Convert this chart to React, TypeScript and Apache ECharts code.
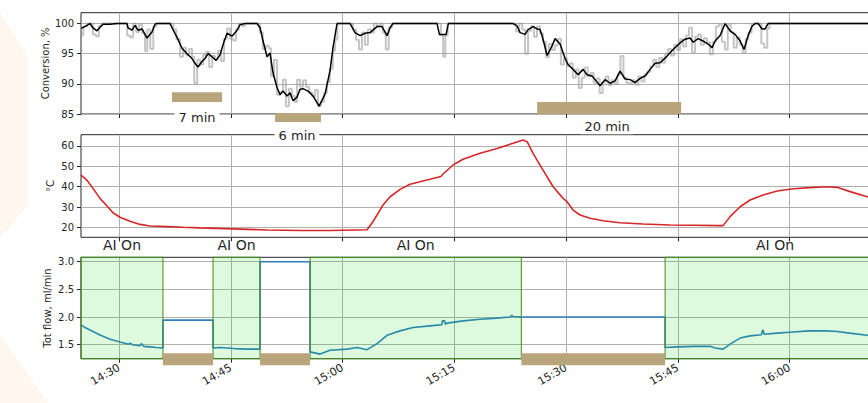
import React, { useEffect, useRef } from 'react';
import * as echarts from 'echarts';

// Time is expressed in minutes after 14:00
const xMin = 24.9;
const xMax = 132.8;
const timeTicks = [30, 45, 60, 75, 90, 105, 120];
const timeTickLabels = ['14:30', '14:45', '15:00', '15:15', '15:30', '15:45', '16:00'];

const convTicks = [85, 90, 95, 100];
const tempTicks = [20, 30, 40, 50, 60];
const flowTicks = [1.5, 2.0, 2.5, 3.0];

// Conversion, % — smoothed (black)
const convSmoothTime = [24.95, 25.7, 26.1, 26.5, 27.05, 27.45, 27.85, 28.8, 29.7, 31.07, 31.21, 31.74, 32.15, 32.55, 33.09, 33.76, 34.43, 34.83, 35.1, 36.85, 37.25, 37.79, 38.46, 39.13, 39.8, 40.2, 40.6, 41.14, 41.54, 41.95, 42.48, 43.02, 43.56, 44.09, 44.5, 45.17, 45.84, 46.24, 46.91, 48.52, 48.93, 49.33, 49.87, 50.27, 50.67, 51.21, 51.61, 52.01, 52.55, 52.95, 53.36, 53.89, 54.3, 54.7, 55.37, 56.04, 56.85, 57.65, 58.32, 58.72, 59.26, 61.01, 61.68, 62.35, 63.02, 63.69, 64.63, 65.3, 65.97, 66.38, 66.78, 72.68, 73.0, 73.9, 74.2, 82.89, 83.42, 83.83, 84.5, 84.9, 85.57, 86.11, 86.51, 86.91, 87.45, 88.12, 88.52, 89.19, 89.87, 90.27, 90.94, 91.61, 92.28, 92.82, 93.49, 93.89, 94.56, 95.23, 95.91, 96.58, 97.25, 97.92, 98.59, 99.26, 99.93, 100.6, 101.28, 101.95, 102.62, 103.56, 104.36, 105.3, 105.97, 106.64, 107.05, 107.72, 108.39, 109.06, 109.6, 110.0, 110.67, 111.34, 112.01, 112.68, 113.36, 113.89, 114.43, 114.97, 115.37, 115.77, 116.31, 116.71, 117.11, 132.8];
const convSmoothValue = [99.2, 99.7, 100, 99.3, 98.8, 99.4, 99.9, 99.9, 100, 100, 99.3, 98.9, 99.7, 98.9, 99.1, 97.6, 98.6, 99.9, 100, 100, 99.0, 97.7, 95.9, 95.0, 94.2, 93.4, 92.8, 93.7, 94.2, 95.0, 94.5, 93.9, 94.8, 97.0, 98.4, 97.9, 98.9, 99.8, 100, 100, 99.3, 97.1, 94.5, 95.1, 91.8, 89.4, 88.2, 88.8, 88.0, 88.5, 87.2, 87.8, 89.1, 89.2, 88.8, 88.0, 86.3, 88.3, 92.2, 96.0, 100, 100, 98.5, 98.0, 98.4, 98.5, 99.5, 99.5, 98.0, 99.3, 100, 100, 98.2, 98.2, 100, 100, 99.6, 98.5, 98.2, 99.0, 99.5, 99.1, 99.0, 97.4, 94.7, 96.3, 97.5, 96.6, 94.2, 93.2, 92.4, 91.5, 92.4, 91.5, 91.3, 90.7, 89.7, 90.7, 90.1, 90.5, 92.1, 90.8, 90.7, 90.2, 90.9, 91.3, 92.4, 93.4, 93.5, 94.6, 95.7, 96.8, 97.4, 97.6, 96.9, 97.5, 97.1, 96.6, 96.0, 97.1, 98.0, 100, 98.8, 98.2, 97.1, 95.7, 98.0, 99.6, 100, 100, 99.1, 99.1, 100, 100];

// Conversion, % — raw (grey)
const convRawTime = [24.95, 25.2, 25.7, 26.5, 26.9, 27.3, 27.7, 30.9, 31.1, 31.5, 31.9, 32.3, 32.7, 33.1, 33.5, 33.8, 34.2, 34.6, 35.0, 36.9, 37.3, 37.7, 38.2, 38.6, 39.0, 39.4, 39.8, 40.1, 40.5, 40.9, 41.3, 41.7, 42.1, 42.5, 42.9, 43.3, 43.7, 44.1, 44.5, 44.9, 45.3, 45.7, 46.1, 46.5, 46.9, 48.5, 48.9, 49.3, 49.7, 50.1, 50.4, 50.8, 51.2, 51.6, 52.0, 52.4, 52.8, 53.2, 53.6, 53.9, 54.3, 54.7, 55.1, 55.5, 55.9, 56.3, 56.7, 57.1, 57.5, 57.9, 58.3, 58.7, 59.0, 59.3, 61.0, 61.4, 61.8, 62.2, 62.6, 63.0, 63.4, 63.8, 64.2, 64.6, 65.0, 65.4, 65.8, 66.2, 66.6, 72.9, 73.2, 73.5, 73.8, 74.1, 82.9, 83.3, 83.7, 84.1, 84.5, 84.9, 85.3, 85.7, 86.1, 86.5, 86.9, 87.3, 87.7, 88.1, 88.5, 88.9, 89.3, 89.7, 90.1, 90.5, 90.9, 91.3, 91.7, 92.1, 92.5, 92.9, 93.3, 93.7, 94.1, 94.5, 94.9, 95.3, 95.7, 96.1, 96.5, 96.9, 97.3, 97.7, 98.1, 98.5, 98.9, 99.3, 99.7, 100.1, 100.5, 100.9, 101.3, 101.7, 102.1, 102.5, 102.9, 103.3, 103.7, 104.1, 104.5, 104.9, 105.3, 105.7, 106.1, 106.5, 106.9, 107.3, 107.7, 108.1, 108.5, 108.9, 109.3, 109.7, 110.1, 110.5, 110.9, 111.3, 111.7, 112.1, 112.5, 112.9, 113.3, 113.7, 114.1, 114.5, 114.9, 115.8, 116.2, 116.6, 117.0, 117.3, 132.8];
const convRawValue = [98.0, 99.5, 100, 98.2, 97.9, 99.6, 100, 100, 98.0, 97.7, 100, 98.6, 99.8, 98.4, 95.4, 99.0, 95.8, 99.5, 100, 100, 99.0, 97.4, 94.5, 96.0, 94.8, 95.8, 94.5, 90.1, 94.0, 93.2, 94.8, 95.3, 92.8, 94.6, 94.0, 95.5, 93.8, 97.5, 99.2, 97.5, 97.2, 99.0, 100, 99.6, 100, 100, 98.5, 95.8, 96.3, 95.9, 91.3, 94.0, 88.2, 88.6, 90.7, 86.3, 89.2, 88.0, 87.0, 90.7, 89.5, 90.6, 89.5, 88.6, 87.9, 89.0, 86.3, 87.0, 88.5, 90.3, 92.5, 95.5, 97.3, 100, 100, 99.0, 97.3, 95.7, 98.5, 96.5, 99.0, 98.5, 100, 99.5, 100, 98.5, 95.7, 99.3, 100, 100, 98.0, 94.5, 98.0, 100, 100, 98.7, 100, 99.0, 95.0, 98.8, 99.6, 97.8, 99.5, 98.4, 97.0, 94.4, 96.6, 95.6, 96.4, 97.5, 93.2, 94.2, 92.9, 93.4, 91.0, 92.4, 89.3, 91.0, 92.7, 91.2, 91.8, 90.2, 90.9, 88.5, 90.3, 91.2, 89.8, 90.6, 90.0, 91.5, 94.6, 91.0, 90.2, 90.0, 90.6, 89.9, 91.2, 90.4, 91.5, 92.0, 92.9, 94.0, 92.8, 94.3, 93.5, 95.0, 95.8, 94.7, 96.5, 95.6, 97.4, 96.2, 98.0, 99.3, 95.2, 97.8, 98.2, 96.5, 97.6, 96.9, 94.9, 97.0, 99.5, 99.9, 97.0, 95.7, 99.9, 98.5, 96.0, 97.7, 96.5, 95.2, 97.5, 98.5, 100, 100, 96.7, 96.0, 99.2, 100, 100];

// Temperature, °C
const tempTime = [24.9, 25.7, 26.51, 27.45, 28.39, 29.19, 30.13, 31.48, 32.82, 34.16, 36.44, 38.59, 40.87, 45.3, 49.87, 54.3, 58.32, 63.29, 64.0, 64.63, 65.44, 66.38, 67.72, 69.06, 70.4, 71.74, 73.2, 73.49, 74.83, 76.17, 78.46, 80.74, 82.89, 84.23, 84.77, 85.57, 86.91, 88.26, 89.6, 90.13, 90.94, 91.88, 93.22, 94.97, 97.25, 100.34, 103.96, 107.05, 110.67, 111.07, 112.01, 113.36, 114.7, 116.44, 118.32, 120.47, 123.15, 125.03, 126.38, 128.12, 130.4, 132.8];
const tempValue = [45.7, 43.2, 39.2, 34.3, 30.6, 27.3, 25.1, 23.1, 21.6, 20.8, 20.5, 20.2, 19.9, 19.4, 18.9, 18.6, 18.6, 19.0, 22.5, 26.2, 31.1, 35.1, 38.7, 41.2, 42.4, 43.6, 45.0, 46.2, 50.6, 53.4, 56.3, 58.7, 61.2, 62.8, 62.0, 56.3, 48.1, 40.0, 34.3, 32.7, 28.6, 26.2, 24.6, 23.4, 22.4, 21.8, 21.3, 21.2, 21.0, 21.0, 25.4, 30.2, 33.5, 36.0, 37.9, 39.0, 39.7, 40.0, 39.7, 37.6, 35.1, 33.0];

// Total flow, ml/min
const flowTime = [24.9, 25.44, 26.51, 27.45, 28.79, 30.13, 31.3, 31.5, 31.8, 32.8, 33.0, 33.3, 34.16, 35.0, 35.9, 35.9, 42.62, 42.62, 43.5, 44.5, 45.5, 47.0, 48.93, 48.93, 55.64, 55.64, 56.98, 58.32, 60.6, 61.95, 63.29, 64.63, 65.97, 67.72, 69.46, 71.74, 73.3, 73.4, 73.7, 73.8, 74.03, 76.17, 78.46, 80.74, 82.5, 82.7, 82.89, 84.0, 103.29, 103.29, 104.9, 107.05, 109.33, 110.0, 111.07, 112.01, 113.36, 114.7, 116.2, 116.4, 116.6, 118.32, 120.47, 122.6, 124.97, 126.38, 128.06, 130.4, 132.8];
const flowValue = [1.86, 1.81, 1.74, 1.675, 1.6, 1.55, 1.51, 1.53, 1.5, 1.48, 1.52, 1.47, 1.46, 1.45, 1.44, 1.945, 1.945, 1.44, 1.45, 1.44, 1.43, 1.42, 1.42, 3.0, 3.0, 1.37, 1.33, 1.4, 1.42, 1.45, 1.41, 1.52, 1.67, 1.75, 1.81, 1.84, 1.86, 1.93, 1.93, 1.87, 1.89, 1.93, 1.96, 1.98, 2.0, 2.03, 2.01, 2.0, 2.0, 1.45, 1.46, 1.47, 1.47, 1.44, 1.42, 1.51, 1.62, 1.66, 1.68, 1.77, 1.69, 1.71, 1.73, 1.75, 1.75, 1.74, 1.71, 1.67, 1.63];

// "AI On" windows
const aiOnStart = [24.9, 42.62, 55.64, 103.29];
const aiOnEnd = [35.9, 48.93, 84.0, 132.8];
const aiOnLabel = 'AI On';

// AI off windows (bars under flow panel)
const aiOffStart = [35.9, 48.93, 84.0];
const aiOffEnd = [42.62, 55.64, 103.29];

// Response windows in the conversion panel
const respStart = [37.11, 50.94, 86.11];
const respEnd = [43.83, 57.11, 105.44];
const respTop = [88.6, 85.17, 87.0];
const respBottom = [87.0, 83.67, 85.0];
const respLabels = ['7 min', '6 min', '20 min'];
const respLabelTime = [40.47, 53.89, 95.5];
const respLabelValue = [84.38, 81.38, 82.88];

const convRange = [85, 101.8];
const tempRange = [15.3, 65.4];
const flowRange = [1.247, 3.08];

const FONT = 'DejaVu Sans';
const TXT = '#262626';
const BROWN = '#b9a57c';

function rectSeries(gi: number, starts: number[], ends: number[], tops: number[], bottoms: number[], style: any, z: number) {
  return {
    type: 'custom',
    xAxisIndex: gi,
    yAxisIndex: gi,
    z,
    silent: true,
    clip: false,
    data: starts.map((s, i) => [s, ends[i], tops[i], bottoms[i]]),
    encode: { x: [0, 1], y: [2, 3] },
    renderItem: (_p: any, api: any) => {
      const p0 = api.coord([api.value(0), api.value(2)]);
      const p1 = api.coord([api.value(1), api.value(3)]);
      return {
        type: 'rect',
        shape: { x: p0[0], y: p0[1], width: p1[0] - p0[0], height: p1[1] - p0[1] },
        style,
      };
    },
  };
}

function textSeries(gi: number, times: number[], values: number[], labels: string[], size: number, bg: string | null) {
  return {
    type: 'custom',
    xAxisIndex: gi,
    yAxisIndex: gi,
    z: 10,
    silent: true,
    clip: false,
    data: times.map((t, i) => [t, values[i]]),
    renderItem: (params: any, api: any) => {
      const p = api.coord([api.value(0), api.value(1)]);
      const style: any = {
        text: labels[params.dataIndex],
        fontSize: size,
        fontFamily: FONT,
        fill: TXT,
        align: 'center',
        verticalAlign: 'middle',
      };
      if (bg) {
        style.backgroundColor = bg;
        style.padding = [1, 4];
      }
      return { type: 'text', x: p[0], y: p[1], style };
    },
  };
}

const timeFormatter = (v: number) => {
  const i = timeTicks.findIndex((t) => Math.abs(t - v) < 1e-6);
  return i >= 0 ? timeTickLabels[i] : '';
};

function xAxis(gi: number, labels: boolean) {
  return {
    type: 'value',
    gridIndex: gi,
    min: xMin,
    max: xMax,
    axisLine: { show: false },
    axisTick: { show: true, customValues: timeTicks, length: 4, lineStyle: { color: TXT } },
    axisLabel: {
      show: labels,
      customValues: timeTicks,
      rotate: 30,
      margin: 8,
      fontSize: 11,
      fontFamily: FONT,
      color: TXT,
      formatter: timeFormatter,
    },
    splitLine: { show: true, lineStyle: { color: '#b0b0b0', width: 1 } },
  };
}

function yAxis(gi: number, range: number[], ticks: number[], name: string, gap: number, fmt: (v: number) => string) {
  return {
    type: 'value',
    gridIndex: gi,
    min: range[0],
    max: range[1],
    name,
    nameLocation: 'middle',
    nameGap: gap,
    nameMoveOverlap: false,
    nameTextStyle: { fontSize: 10, fontFamily: FONT, color: TXT },
    axisLine: { show: false },
    axisTick: { show: true, customValues: ticks, length: 4, lineStyle: { color: TXT } },
    axisLabel: { customValues: ticks, margin: 7, fontSize: 10, fontFamily: FONT, color: TXT, formatter: fmt },
    splitLine: { show: true, lineStyle: { color: '#b0b0b0', width: 1 } },
  };
}

export default function App() {
  const ref = useRef<HTMLDivElement>(null);
  useEffect(() => {
    if (!ref.current) return;
    const chart = echarts.init(ref.current, null, { renderer: 'svg' });
    const gridBase = {
      left: 81,
      width: 804,
      show: true,
      borderColor: TXT,
      borderWidth: 1,
      backgroundColor: 'transparent',
      containLabel: false,
      outerBoundsMode: 'none',
    };
    const option: any = {
      animation: false,
      backgroundColor: '#ffffff',
      graphic: [
        { type: 'polygon', z: -10, silent: true, shape: { points: [[0, 12], [28, 58], [28, 205], [0, 238]] }, style: { fill: '#fdf7ee' } },
        { type: 'polygon', z: -10, silent: true, shape: { points: [[0, 335], [48, 403], [0, 403]] }, style: { fill: '#fdf7ee' } },
      ],
      grid: [
        { ...gridBase, top: 12.7, height: 101.3 },
        { ...gridBase, top: 134.7, height: 102.6 },
        { ...gridBase, top: 257.3, height: 101.4 },
      ],
      xAxis: [xAxis(0, false), xAxis(1, false), xAxis(2, true)],
      yAxis: [
        yAxis(0, convRange, convTicks, 'Conversion, %', 31, (v) => String(v)),
        yAxis(1, tempRange, tempTicks, '°C', 26, (v) => String(v)),
        yAxis(2, flowRange, flowTicks, 'Tot flow, ml/min', 29, (v) => v.toFixed(1)),
      ],
      series: [
        {
          type: 'line',
          xAxisIndex: 0,
          yAxisIndex: 0,
          step: 'end',
          showSymbol: false,
          silent: true,
          z: 2,
          lineStyle: { color: 'rgba(150,150,150,0.55)', width: 2 },
          data: convRawTime.map((t, i) => [t, convRawValue[i]]),
        },
        {
          type: 'line',
          xAxisIndex: 0,
          yAxisIndex: 0,
          showSymbol: false,
          silent: true,
          z: 3,
          lineStyle: { color: '#000000', width: 1.5 },
          data: convSmoothTime.map((t, i) => [t, convSmoothValue[i]]),
        },
        rectSeries(0, respStart, respEnd, respTop, respBottom, { fill: BROWN }, 4),
        textSeries(0, respLabelTime, respLabelValue, respLabels, 13, '#ffffff'),
        {
          type: 'line',
          xAxisIndex: 1,
          yAxisIndex: 1,
          showSymbol: false,
          silent: true,
          z: 3,
          lineStyle: { color: '#d62728', width: 1.6 },
          data: tempTime.map((t, i) => [t, tempValue[i]]),
        },
        {
          type: 'line',
          xAxisIndex: 2,
          yAxisIndex: 2,
          showSymbol: false,
          silent: true,
          z: 2,
          lineStyle: { color: '#2f7fc1', width: 1.6 },
          data: flowTime.map((t, i) => [t, flowValue[i]]),
        },
        rectSeries(
          2,
          aiOnStart,
          aiOnEnd,
          aiOnStart.map(() => flowRange[1]),
          aiOnStart.map(() => flowRange[0]),
          { fill: 'rgba(0,215,0,0.13)', stroke: 'rgba(70,140,30,0.85)', lineWidth: 1.2 },
          5
        ),
        rectSeries(
          2,
          aiOffStart,
          aiOffEnd,
          aiOffStart.map(() => 1.345),
          aiOffStart.map(() => 1.13),
          { fill: BROWN },
          6
        ),
        textSeries(
          2,
          aiOnStart.map((s, i) => (s + aiOnEnd[i]) / 2),
          aiOnStart.map(() => 3.3),
          aiOnStart.map(() => aiOnLabel),
          14,
          null
        ),
      ],
    };
    chart.setOption(option);
    return () => chart.dispose();
  }, []);
  return (
    <div
      ref={ref}
      style={{ position: 'fixed', left: 0, top: 0, width: 868, height: 403, overflow: 'hidden', background: '#fff' }}
    />
  );
}
